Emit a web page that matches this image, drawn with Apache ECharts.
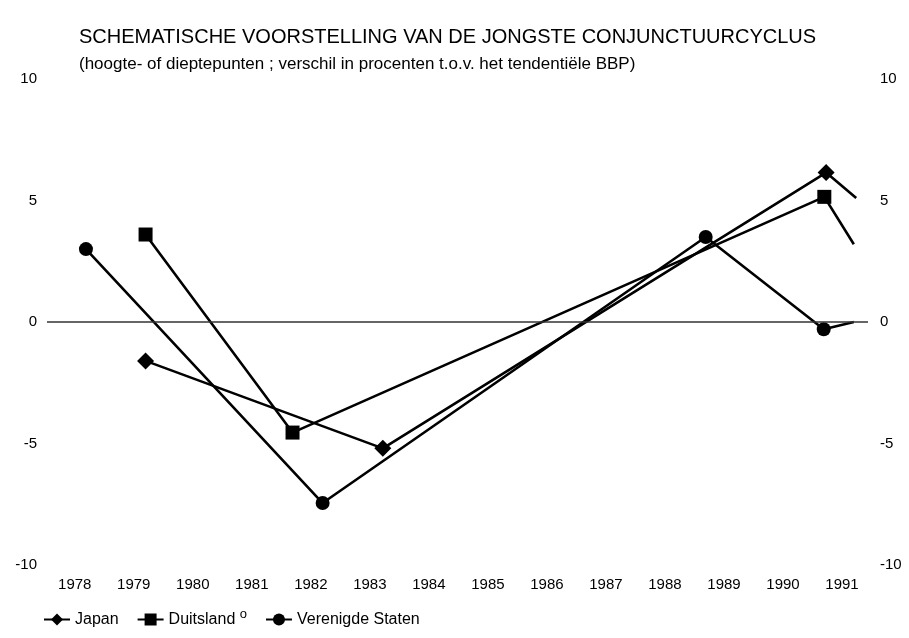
<!DOCTYPE html>
<html>
<head>
<meta charset="utf-8">
<script src="https://cdn.jsdelivr.net/npm/echarts@6/dist/echarts.min.js"></script>
<style>
  html, body { margin: 0; padding: 0; background: #fff; }
  #chart { width: 909px; height: 638px; }
</style>
</head>
<body>
<div id="chart"></div>
<script>
  // jaartallen onder de as
  var years = [1978, 1979, 1980, 1981, 1982, 1983, 1984, 1985, 1986, 1987, 1988, 1989, 1990, 1991];

  // [tijdstip, % t.o.v. tendentieel BBP]; laatste punt zonder symbool
  var japan = [[1979.2, -1.6], [1983.22, -5.2], [1990.73, 6.15], [1991.24, 5.1]];
  var duitsland = [[1979.2, 3.6], [1981.69, -4.55], [1990.7, 5.15], [1991.2, 3.2]];
  var verenigdeStaten = [[1978.19, 3.0], [1982.2, -7.45], [1988.69, 3.5], [1990.69, -0.3], [1991.2, 0.0]];

  var font = 'Liberation Sans';

  function toData(arr) {
    return arr.map(function (p, i) {
      if (i === arr.length - 1) return { value: p, symbol: 'none' };
      return p;
    });
  }

  function mkSeries(name, arr, symbol, size) {
    return {
      name: name,
      type: 'line',
      data: toData(arr),
      symbol: symbol,
      symbolSize: size,
      showAllSymbol: true,
      lineStyle: { color: '#000', width: 2.6 },
      itemStyle: { color: '#000' },
      emphasis: { disabled: true },
      z: 3
    };
  }

  var series = [
    mkSeries('Japan', japan, 'diamond', 17),
    mkSeries('Duitsland', duitsland, 'rect', 14),
    mkSeries('Verenigde Staten', verenigdeStaten, 'circle', 14)
  ];
  // nullijn
  series[0].markLine = {
    silent: true,
    symbol: 'none',
    label: { show: false },
    lineStyle: { color: '#333', width: 1.5, type: 'solid' },
    data: [{ yAxis: 0 }]
  };

  var chart = echarts.init(document.getElementById('chart'));
  chart.setOption({
    animation: false,
    backgroundColor: '#fff',
    title: {
      text: 'SCHEMATISCHE VOORSTELLING VAN DE JONGSTE CONJUNCTUURCYCLUS',
      subtext: '(hoogte- of dieptepunten ; verschil in procenten t.o.v. het tendentiële BBP)',
      left: 74,
      top: 22,
      itemGap: 9,
      textStyle: { fontFamily: font, fontSize: 20, fontWeight: 'normal', color: '#000' },
      subtextStyle: { fontFamily: font, fontSize: 17, color: '#000' }
    },
    legend: {
      left: 38,
      top: 603,
      itemWidth: 26,
      itemHeight: 15,
      itemGap: 18,
      textStyle: {
        fontFamily: font, fontSize: 16, color: '#000',
        rich: { sup: { fontFamily: font, fontSize: 13, color: '#000', verticalAlign: 'top', padding: [0, 0, 10, 0] } }
      },
      formatter: function (n) {
        return n === 'Duitsland' ? 'Duitsland {sup|o}' : n;
      },
      data: ['Japan', 'Duitsland', 'Verenigde Staten']
    },
    grid: { left: 47, right: 41, top: 79, bottom: 73 },
    xAxis: {
      type: 'value',
      min: 1977.53,
      max: 1991.44,
      axisLine: { show: false },
      axisTick: { show: false },
      splitLine: { show: false },
      axisLabel: {
        customValues: years,
        margin: 12,
        fontFamily: font, fontSize: 15, color: '#000',
        formatter: function (v) { return String(v); }
      }
    },
    yAxis: [
      {
        type: 'value', min: -10, max: 10, interval: 5, position: 'left',
        axisLine: { show: false }, axisTick: { show: false }, splitLine: { show: false },
        axisLabel: { margin: 10, fontFamily: font, fontSize: 15, color: '#000' }
      },
      {
        type: 'value', min: -10, max: 10, interval: 5, position: 'right',
        axisLine: { show: false }, axisTick: { show: false }, splitLine: { show: false },
        axisLabel: { margin: 12, fontFamily: font, fontSize: 15, color: '#000' }
      }
    ],
    series: series
  });
</script>
</body>
</html>
